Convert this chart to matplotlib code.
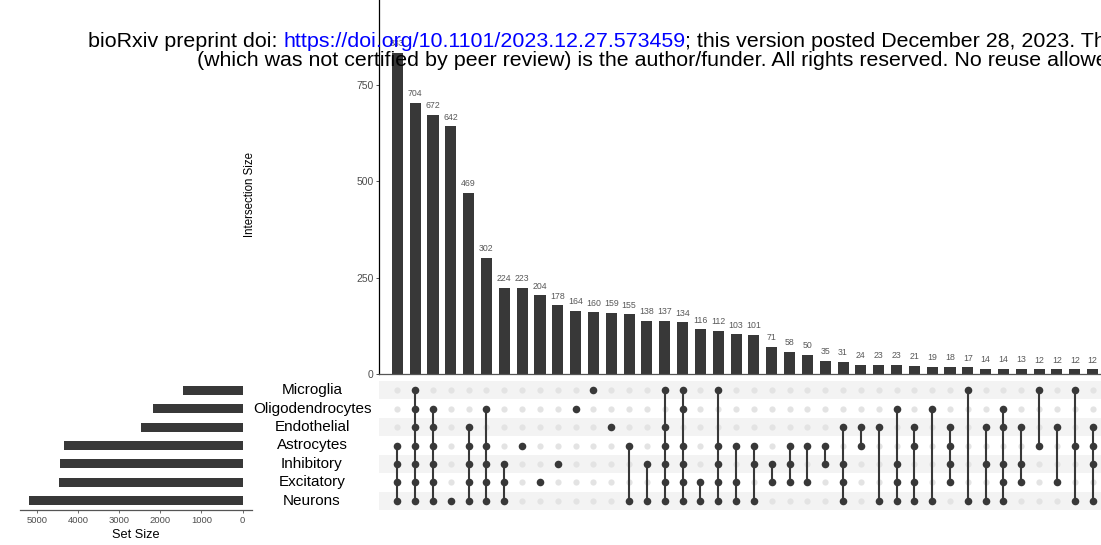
"""UpSet plot of marker-gene overlap across brain cell types."""

import matplotlib

matplotlib.use("Agg")
import matplotlib.pyplot as plt
from matplotlib.transforms import blended_transform_factory

plt.rcParams["font.family"] = ["Liberation Sans", "DejaVu Sans"]

W, H = 1101, 545
DARK = "#383838"
TICK_GREY = "#4d4d4d"

# sets, listed top to bottom in the matrix
SETS = ["Microglia", "Oligodendrocytes", "Endothelial", "Astrocytes",
        "Inhibitory", "Excitatory", "Neurons"]
SET_SIZES = [1440, 2170, 2470, 4330, 4430, 4460, 5180]
ABBR = {"M": "Microglia", "O": "Oligodendrocytes", "En": "Endothelial",
        "A": "Astrocytes", "I": "Inhibitory", "Ex": "Excitatory", "N": "Neurons"}

INTERSECTION_SIZES = [833, 704, 672, 642, 469, 302, 224, 223, 204, 178,
                      164, 160, 159, 155, 138, 137, 134, 116, 112, 103,
                      101, 71, 58, 50, 35, 31, 24, 23, 23, 21,
                      19, 18, 17, 14, 14, 13, 12, 12, 12, 12]
COMBOS = [
    "A I Ex N", "M O En A I Ex N", "O En A I Ex N", "N", "En A I Ex N",
    "O A I Ex N", "I Ex N", "A", "Ex", "I",
    "O", "M", "En", "A N", "I N",
    "M En A I Ex N", "M O A I Ex N", "Ex N", "M A I Ex N", "A Ex N",
    "A I N", "I Ex", "A I Ex", "A Ex", "A I",
    "En I Ex N", "En A", "En N", "O I Ex N", "En A Ex N",
    "O N", "En A I Ex", "M N", "En I N", "O En I Ex N",
    "En I Ex", "M A", "En Ex", "M A N", "En A I N",
]

HEADER_PRE = "bioRxiv preprint doi:"
HEADER_URL = "https://doi.org/10.1101/2023.12.27.573459"
HEADER_POST = "; this version posted December 28, 2023. The copyright holder for this preprint"
HEADER_LINE2 = ("(which was not certified by peer review) is the author/funder. "
                "All rights reserved. No reuse allowed without permission.")


def px_axes(x0, y_top, x1, y_bottom):
    return [x0 / W, (H - y_bottom) / H, (x1 - x0) / W, (y_bottom - y_top) / H]


fig = plt.figure(figsize=(W / 100, H / 100), dpi=100)

ax_top = fig.add_axes(px_axes(379, 0, 1101, 374))
ax_m = fig.add_axes(px_axes(379, 381, 1101, 510))
ax_s = fig.add_axes(px_axes(20, 381, 252, 510))

n = len(INTERSECTION_SIZES)
xs = list(range(n))
xlim = (-1.03, 39.47)
row_y = {name: len(SETS) - 1 - i for i, name in enumerate(SETS)}

# intersection size bars
ax_top.bar(xs, INTERSECTION_SIZES, width=0.62, color=DARK)
for x, v in zip(xs, INTERSECTION_SIZES):
    ax_top.annotate(str(v), (x, v), xytext=(0, 3.4), textcoords="offset points",
                    ha="center", va="bottom", fontsize=6.3, color="#595959")
ax_top.set_xlim(*xlim)
ax_top.set_ylim(0, 970)
ax_top.set_yticks([0, 250, 500, 750])
ax_top.set_xticks([])
ax_top.tick_params(axis="y", length=2.5, width=0.6, color="#333333",
                   labelsize=7.5, labelcolor=TICK_GREY, pad=1.5)
for side in ("top", "right"):
    ax_top.spines[side].set_visible(False)
ax_top.spines["left"].set_linewidth(0.9)
ax_top.spines["bottom"].set_color("#555555")
ax_top.spines["bottom"].set_linewidth(0.9)
ax_top.set_ylabel("Intersection Size", fontsize=8.3)
ax_top.yaxis.set_label_coords(-0.170, 0.48)

# membership matrix
for name in SETS:
    y = row_y[name]
    if y % 2 == 0:
        ax_m.axhspan(y - 0.5, y + 0.5, color="#f3f3f3", lw=0, zorder=0)
for x, combo in zip(xs, COMBOS):
    members = [row_y[ABBR[k]] for k in combo.split()]
    ax_m.scatter([x] * len(SETS), list(row_y.values()), s=20, color="#e3e3e3",
                 lw=0, zorder=1)
    if len(members) > 1:
        ax_m.plot([x, x], [min(members), max(members)], color=DARK, lw=1.5,
                  zorder=2, solid_capstyle="butt")
    ax_m.scatter([x] * len(members), members, s=30, color=DARK, lw=0, zorder=3)
ax_m.set_xlim(*xlim)
ax_m.set_ylim(-0.5, len(SETS) - 0.5)
ax_m.axis("off")

# set size bars
ax_s.barh([row_y[s] for s in SETS], SET_SIZES, height=0.49, color=DARK)
ax_s.set_xlim(5405, -226)
ax_s.set_ylim(-0.5, len(SETS) - 0.5)
ax_s.set_xticks([5000, 4000, 3000, 2000, 1000, 0])
ax_s.set_yticks([])
ax_s.tick_params(axis="x", length=2.5, width=0.6, color="#555555",
                 labelsize=6.8, labelcolor=TICK_GREY, pad=2)
for side in ("top", "right", "left"):
    ax_s.spines[side].set_visible(False)
ax_s.spines["bottom"].set_color("#555555")
ax_s.spines["bottom"].set_linewidth(0.9)
ax_s.set_xlabel("Set Size", fontsize=9.2)
ax_s.xaxis.set_label_coords(0.5, -0.15)

# set names between the two panels
name_tf = blended_transform_factory(fig.transFigure, ax_m.transData)
for name in SETS:
    fig.text(312 / W, row_y[name], name, transform=name_tf, ha="center",
             va="center", fontsize=11, color="black")

# preprint header overlaid on top of the figure
ax_head = fig.add_axes([0, 0, 1, 1], zorder=5)
ax_head.axis("off")
ax_head.patch.set_alpha(0)
hs = 15.4
t1 = ax_head.text(88 / W, (H - 51) / H, HEADER_PRE, fontsize=hs, ha="left",
                  va="bottom", color="black")
t2 = ax_head.annotate(HEADER_URL, xy=(1, 0), xycoords=t1, xytext=(4.3, 0),
                      textcoords="offset points", fontsize=hs, ha="left",
                      va="bottom", color="#0000ff", annotation_clip=False)
ax_head.annotate(HEADER_POST, xy=(1, 0), xycoords=t2, xytext=(0, 0),
                 textcoords="offset points", fontsize=hs, ha="left",
                 va="bottom", color="black", annotation_clip=False)
ax_head.text(197 / W, (H - 70) / H, HEADER_LINE2, fontsize=hs, ha="left",
             va="bottom", color="black")

fig.savefig("out.png", dpi=100)
